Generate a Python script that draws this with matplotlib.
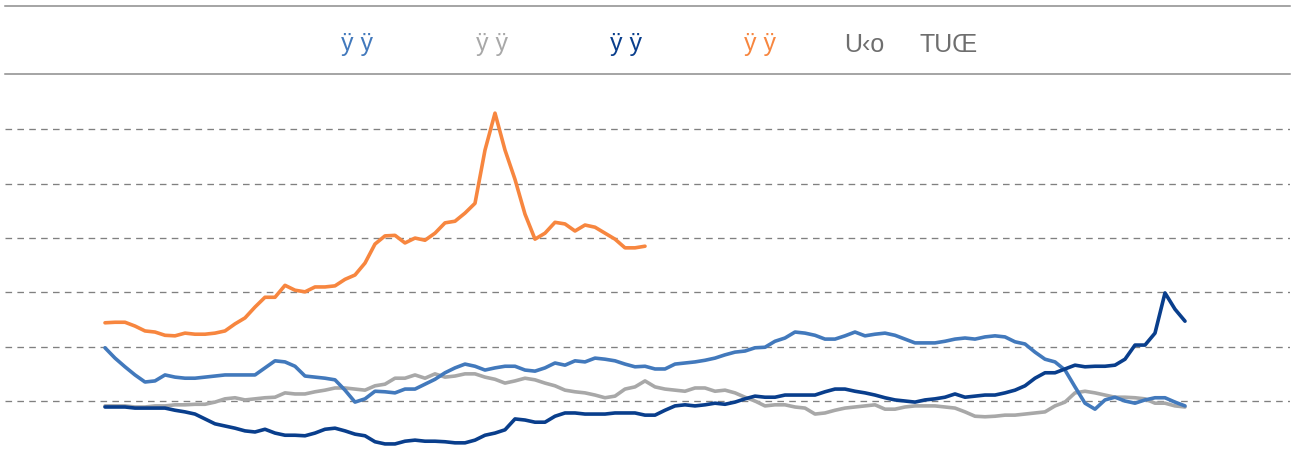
import numpy as np
import matplotlib
matplotlib.use("Agg")
import matplotlib.pyplot as plt
from matplotlib.lines import Line2D

# ---- data (arbitrary units; gridlines every 10) ----
legend_labels = ["ÿ ÿ", "ÿ ÿ", "ÿ ÿ", "ÿ ÿ"]
extra_labels = ["U‹o", "TUŒ"]

series_blue = [9.8, 7.9, 6.3, 4.8, 3.5, 3.7, 4.8, 4.4, 4.2, 4.2,
               4.4, 4.6, 4.8, 4.8, 4.8, 4.8, 6.1, 7.4, 7.2, 6.4,
               4.6, 4.4, 4.2, 3.9, 2.0, -0.2, 0.4, 1.8, 1.7, 1.5,
               2.2, 2.2, 3.1, 4.0, 5.2, 6.1, 6.8, 6.4, 5.7, 6.1,
               6.4, 6.4, 5.7, 5.5, 6.1, 7.0, 6.6, 7.4, 7.2, 7.9,
               7.7, 7.4, 6.8, 6.3, 6.4, 5.9, 5.9, 6.8, 7.0, 7.2,
               7.5, 7.9, 8.5, 9.0, 9.2, 9.8, 9.9, 11.0, 11.6, 12.7,
               12.5, 12.1, 11.4, 11.4, 12.0, 12.7, 12.0, 12.3, 12.5, 12.1,
               11.4, 10.7, 10.7, 10.7, 11.0, 11.4, 11.6, 11.4, 11.8, 12.0,
               11.8, 10.9, 10.5, 9.0, 7.7, 7.2, 5.7, 2.6, -0.4, -1.5,
               0.2, 0.7, 0.0, -0.4, 0.2, 0.6, 0.6, -0.2, -0.9]

series_gray = [-0.9, -0.9, -0.9, -1.1, -1.1, -0.9, -0.9, -0.7, -0.7, -0.6,
               -0.6, -0.2, 0.4, 0.6, 0.2, 0.4, 0.6, 0.7, 1.5, 1.3,
               1.3, 1.7, 2.0, 2.4, 2.4, 2.2, 2.0, 2.8, 3.1, 4.2,
               4.2, 4.8, 4.2, 5.0, 4.4, 4.6, 5.0, 5.0, 4.4, 4.0,
               3.3, 3.7, 4.2, 3.9, 3.3, 2.8, 2.0, 1.7, 1.5, 1.1,
               0.6, 0.9, 2.2, 2.6, 3.7, 2.6, 2.2, 2.0, 1.8, 2.4,
               2.4, 1.8, 2.0, 1.5, 0.7, 0.0, -0.9, -0.7, -0.7, -1.1,
               -1.3, -2.4, -2.2, -1.7, -1.3, -1.1, -0.9, -0.7, -1.5, -1.5,
               -1.1, -0.9, -0.9, -0.9, -1.1, -1.3, -2.0, -2.8, -2.9, -2.8,
               -2.6, -2.6, -2.4, -2.2, -2.0, -0.9, -0.2, 1.5, 1.8, 1.5,
               1.1, 0.7, 0.7, 0.6, 0.4, -0.4, -0.4, -0.9, -1.1]

series_navy = [-1.1, -1.1, -1.1, -1.3, -1.3, -1.3, -1.3, -1.7, -2.0, -2.4,
               -3.3, -4.2, -4.6, -5.0, -5.5, -5.7, -5.2, -5.9, -6.3, -6.3,
               -6.4, -5.9, -5.2, -5.0, -5.5, -6.1, -6.4, -7.5, -7.9, -7.9,
               -7.4, -7.2, -7.4, -7.4, -7.5, -7.7, -7.7, -7.2, -6.3, -5.9,
               -5.3, -3.3, -3.5, -3.9, -3.9, -2.8, -2.2, -2.2, -2.4, -2.4,
               -2.4, -2.2, -2.2, -2.2, -2.6, -2.6, -1.7, -0.9, -0.7, -0.9,
               -0.7, -0.4, -0.6, -0.2, 0.4, 0.9, 0.7, 0.7, 1.1, 1.1,
               1.1, 1.1, 1.7, 2.2, 2.2, 1.8, 1.5, 1.1, 0.6, 0.2,
               0.0, -0.2, 0.2, 0.4, 0.7, 1.3, 0.7, 0.9, 1.1, 1.1,
               1.5, 2.0, 2.8, 4.2, 5.2, 5.2, 5.9, 6.6, 6.3, 6.4,
               6.4, 6.6, 7.7, 10.3, 10.3, 12.5, 19.9, 16.9, 14.7]

series_orange = [14.4, 14.5, 14.5, 13.8, 12.9, 12.7, 12.1, 12.0, 12.5, 12.3,
                 12.3, 12.5, 12.9, 14.2, 15.3, 17.3, 19.1, 19.1, 21.3, 20.4,
                 20.1, 21.0, 21.0, 21.2, 22.4, 23.2, 25.4, 28.9, 30.4, 30.5,
                 29.1, 30.0, 29.6, 30.9, 32.8, 33.1, 34.6, 36.4, 46.2, 53.0,
                 46.2, 40.8, 34.4, 29.8, 30.9, 32.9, 32.6, 31.3, 32.4, 32.0,
                 30.9, 29.8, 28.2, 28.2, 28.5]

grid_values = [0, 10, 20, 30, 40, 50]

# ---- styling ----
c_blue = "#4279BC"
c_gray = "#A8A8A8"
c_navy = "#093E8C"
c_orange = "#F7863F"
c_text_extra = "#6E6E6E"
c_rule = "#8C8C8C"

fig = plt.figure(figsize=(12.95, 4.53), dpi=100)
W, H = 1295.0, 453.0

ax = fig.add_axes([5 / W, 0.0, 1285 / W, 373 / H])
ax.set_xlim(-10, 118.5)
ax.set_ylim(-9.57, 59.1)

for g in grid_values:
    ax.axhline(g, color="#808080", lw=0.95, linestyle=(0, (5, 4)), zorder=1)

lw = 2.6
ax.plot(np.arange(len(series_gray)), series_gray, color=c_gray, lw=lw, zorder=2,
        solid_joinstyle="round", solid_capstyle="round")
ax.plot(np.arange(len(series_blue)), series_blue, color=c_blue, lw=lw, zorder=3,
        solid_joinstyle="round", solid_capstyle="round")
ax.plot(np.arange(len(series_navy)), series_navy, color=c_navy, lw=lw, zorder=4,
        solid_joinstyle="round", solid_capstyle="round")
ax.plot(np.arange(len(series_orange)), series_orange, color=c_orange, lw=lw, zorder=5,
        solid_joinstyle="round", solid_capstyle="round")

ax.set_xticks([])
ax.set_yticks([])
for s in ax.spines.values():
    s.set_visible(False)

# ---- legend band ----
for ypx in (6, 74):
    fig.add_artist(Line2D([5 / W, 1290 / W], [1 - ypx / H, 1 - ypx / H],
                          transform=fig.transFigure, color=c_rule, lw=1.1))

font = ["Liberation Sans Narrow", "Liberation Sans", "DejaVu Sans"]
fs = 18
base_y = 1 - 51.5 / H
legend_x = [357, 492, 626, 760]
legend_cols = [c_blue, c_gray, c_navy, c_orange]
for lab, xp, col in zip(legend_labels, legend_x, legend_cols):
    fig.text(xp / W, base_y, lab, color=col, fontsize=fs, family=font,
             ha="center", va="baseline")
for lab, xp in zip(extra_labels, [864, 949]):
    fig.text(xp / W, base_y, lab, color=c_text_extra, fontsize=fs, family=font,
             ha="center", va="baseline")

fig.savefig("out.png", dpi=100)
